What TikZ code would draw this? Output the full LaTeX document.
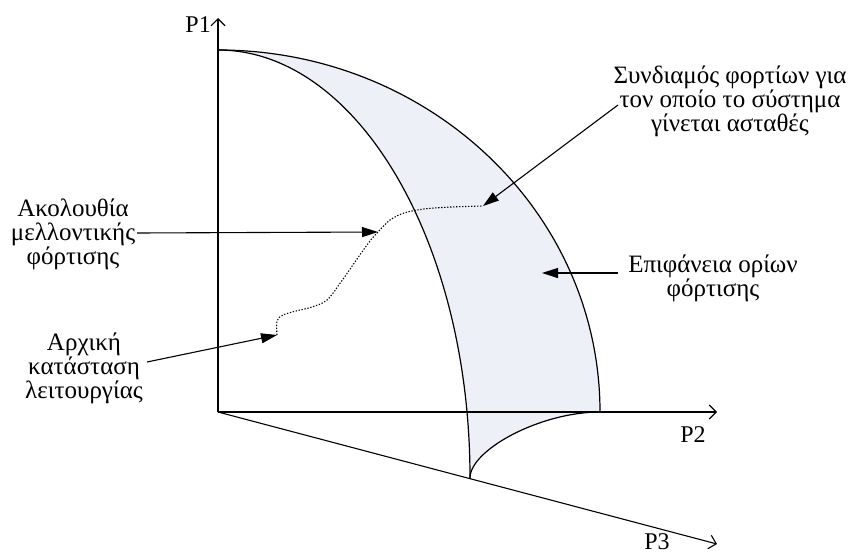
\documentclass[tikz,border=0pt]{standalone}
\usepackage{fontspec}
\setmainfont{Liberation Serif}
\usetikzlibrary{arrows.meta}
\definecolor{surf}{HTML}{EDF0F6}
\tikzset{
  axis/.style={line width=1.1pt,-{Straight Barb[length=7pt,width=14pt,line width=1.1pt]}},
  edge/.style={line width=1.2pt},
  pointer/.style={line width=1.1pt,-{Triangle[length=16pt,width=10pt]}},
  label/.style={align=center,inner sep=0pt,font=\fontsize{25}{24}\selectfont},
  axlabel/.style={inner sep=0pt,font=\fontsize{24}{24}\selectfont},
  dots/.style={line width=1.1pt,dash pattern=on 1.3pt off 1.7pt}
}
\begin{document}
\begin{tikzpicture}[x=1pt,y=-1pt]
\useasboundingbox (0,0) rectangle (848,554);
% key points
\coordinate (O) at (218,412);
\coordinate (top) at (218,50);
\coordinate (outerend) at (600,412);
\coordinate (innerend) at (470,478);
% surface fill
\fill[surf] (top) .. controls (429,50) and (600,212) .. (outerend)
  .. controls (540,412) and (470,450) .. (innerend)
  .. controls (470,242) and (357,50) .. (top) -- cycle;
% axes
\coordinate (P1tip) at (218,18);
\coordinate (P2tip) at (717,412);
\coordinate (P3tip) at (717,544);
\draw[axis] (O) -- (P1tip);
\draw[axis] (O) -- (P2tip);
\draw[axis] (O) -- (P3tip);
\node[axlabel,anchor=base east] (P1) at (211,32) {P1};
\node[axlabel,anchor=base] (P2) at (693,442) {P2};
\node[axlabel,anchor=base] (P3) at (657,549) {P3};
% surface boundaries
\draw[edge] (top) .. controls (429,50) and (600,212) .. (outerend);
\draw[edge] (top) .. controls (357,50) and (470,242) .. (innerend);
\draw[edge] (innerend) .. controls (470,450) and (540,412) .. (outerend);
% dotted load trajectory
\coordinate (s0) at (277,335);
\coordinate (s1) at (378,232);
\coordinate (s2) at (483,206);
\draw[dots] plot[smooth,tension=0.55] coordinates {(277,335) (277,321) (283,315) (296,311) (312,307) (327,300) (341,282) (357,259) (370,241) (378,232) (390,220) (404,213) (424,209) (451,207) (483,206)};
% labels
\node[label] (seq) at (73,234) {Ακολουθία\\μελλοντικής\\φόρτισης};
\node[label] (init) at (84,368) {Αρχική\\κατάσταση\\λειτουργίας};
\node[label] (unst) at (730,101) {Συνδιαμός φορτίων για\\τον οποίο το σύστημα\\γίνεται ασταθές};
\node[label] (surfl) at (713,278) {Επιφάνεια ορίων\\φόρτισης};
% pointers
\coordinate (a1) at (137,233);
\coordinate (a2) at (147,362);
\coordinate (a3) at (618,105);
\coordinate (a4) at (618,273);
\coordinate (t4) at (542,273);
\draw[pointer] (a1) -- (s1);
\draw[pointer] (a2) -- (s0);
\draw[pointer] (a3) -- (s2);
\draw[pointer] (a4) -- (t4);
\end{tikzpicture}
\end{document}
